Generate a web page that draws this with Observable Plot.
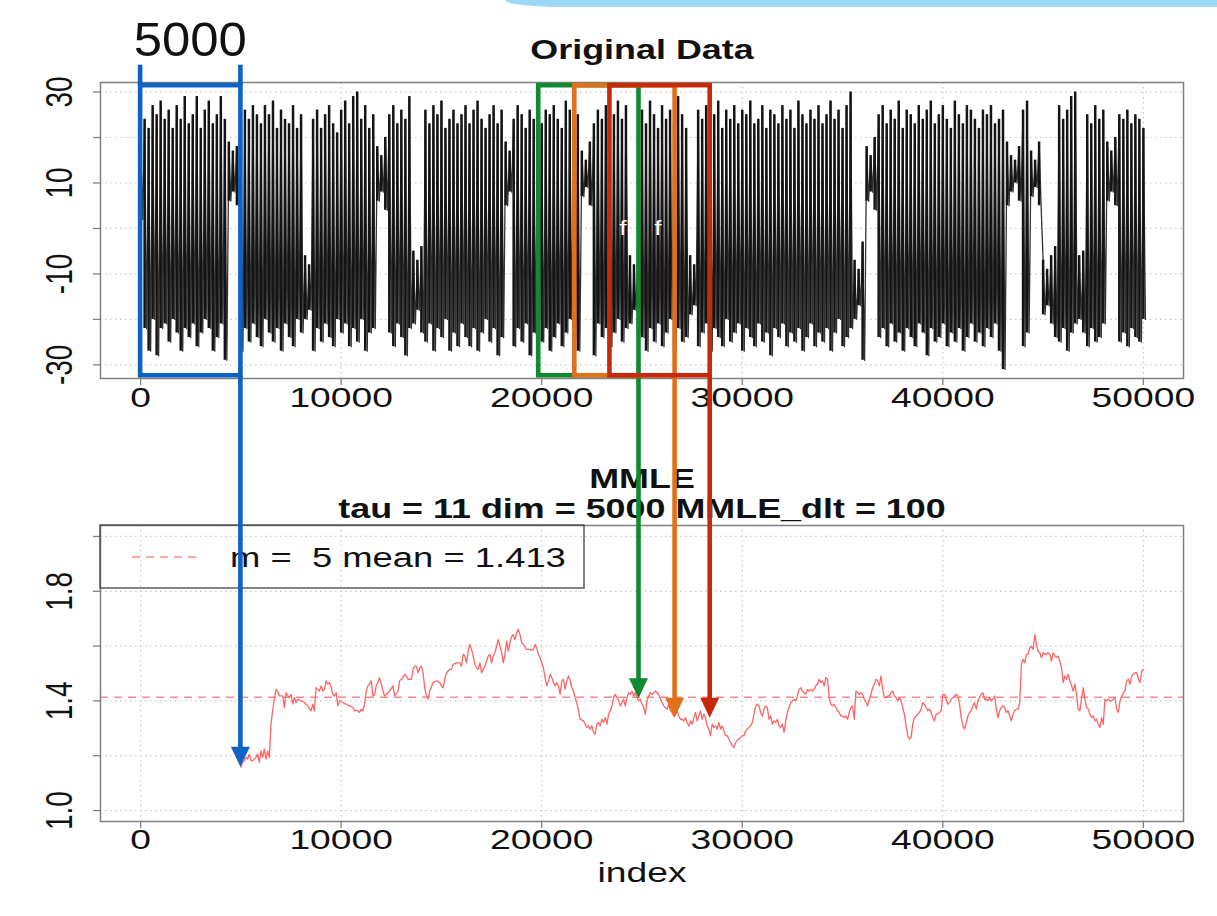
<!DOCTYPE html>
<html><head><meta charset="utf-8">
<script src="https://cdn.jsdelivr.net/npm/d3@7"></script>
<script src="https://cdn.jsdelivr.net/npm/@observablehq/plot@0.6"></script>
<style>
html,body{margin:0;padding:0;background:#fff;}
#page{position:relative;width:1217px;height:916px;overflow:hidden;font-family:"Liberation Sans",Arial,Helvetica,sans-serif;}
#page > svg{position:absolute;left:0;overflow:visible;}
#deco{position:absolute;left:505px;top:0;width:712px;height:7px;background:#9bd8f8;border-bottom-left-radius:60px 7px;}
</style></head><body><div id="page"><div id="deco"></div></div>
<script>
// ---------------- data ----------------
const xTicks = [0, 10000, 20000, 30000, 40000, 50000];
const topYTicks = [-30, -20, -10, 0, 10, 20, 30];
const topYLabels = [30, 10, -10, -30];
const botYTicks = [1.0, 1.2, 1.4, 1.6, 1.8, 2.0];
const botYLabels = [1.0, 1.4, 1.8];

// Original data: one vertical excursion (max / min) every 200 samples
const spikeStep = 200;
const spikeHi = [
20,24,22,27,25,28,24,26,22,27, 24,29,23,25,29,22,26,28,23,25,
29,24,19,17,18,22,26,24,27,25, 23,27,25,28,22,26,24,23,27,22,
25,-6,-8,24,26,22,25,27,23,21, 26,28,23,29,30,24,27,22,25,18,
16,20,25,27,23,26,24,29,-5,-7, -4,26,23,27,25,28,22,24,26,23,
25,27,23,26,28,24,22,25,27,23, 26,19,17,24,27,25,22,26,24,28,
23,26,25,27,24,22,28,26,23,25, 17,15,19,23,26,24,27,22,25,28,
24,27,-6,-8,-5,26,23,28,25,22, 27,24,26,23,29,25,22,-6,-8,26,
24,27,23,25,28,22,26,24,27,23, 26,25,28,23,24,27,22,26,25,23,
27,24,26,22,28,25,23,26,24,27, 23,25,28,24,26,22,27,30,-7,-9,
-3,18,16,20,25,27,23,26,24,28, 22,26,25,23,27,24,26,28,23,25,
27,24,22,28,25,23,27,26,24,22, 26,25,27,23,24,26,19,16,15,18,
26,28,17,15,19,-7,-9,-6,-4,27, 24,26,29,30,-6,-5,25,23,27,24,
26,19,17,20,25,24,26,23,25,24,22];
const spikeLo = [
2,-22,-27,-20,-28,-22,-21,-25,-20,-23, -27,-22,-24,-21,-26,-23,-20,-22,-27,-24,
-21,-29,6,8,5,-27,-22,-25,-21,-24, -26,-20,-23,-25,-22,-27,-21,-24,-26,-20,
-23,-20,-18,-27,-22,-25,-21,-24,-26,-20, -23,-21,-26,-22,-25,-20,-27,-23,-22,6,
8,4,-23,-26,-21,-24,-28,-22,-21,-18, -23,-25,-21,-27,-22,-24,-20,-27,-23,-26,
-21,-24,-26,-22,-27,-23,-20,-25,-22,-28, -24,5,8,-26,-22,-25,-21,-28,-23,-20,
-25,-22,-27,-24,-21,-26,-23,-20,-24,-27, 7,9,5,-28,-21,-24,-22,-26,-23,-20,
-25,-22,-21,-18,-23,-24,-27,-22,-25,-21, -26,-23,-20,-27,-22,-25,-24,-19,-17,-26,
-23,-21,-27,-22,-24,-26,-20,-25,-23,-21, -27,-22,-24,-26,-21,-25,-23,-28,-22,-24,
-21,-26,-23,-25,-22,-27,-24,-21,-26,-23, -25,-22,-27,-23,-20,-26,-24,-22,-20,-17,
-29,6,8,4,-24,-22,-26,-21,-25,-23, -27,-22,-24,-26,-21,-23,-28,-22,-25,-24,
-21,-26,-23,-25,-22,-27,-24,-21,-25,-23, -26,-22,-24,-21,-27,-31,5,8,10,6,
-26,-23,7,9,5,-19,-17,-21,-24,-25, -22,-27,-23,-21,-20,-23,-26,-22,-25,-24,
-21,6,8,5,-25,-23,-26,-22,-24,-25,-20];
const fMarkX = [24050, 25800];

// MMLE estimates from index 5000 to 50000
const mmleStart = 5000, mmleEnd = 50000;
const mmleValues = [
1.158,1.176,1.182,1.194,1.188,1.206,1.182,1.182,1.188,1.194,
1.206,1.176,1.218,1.194,1.224,1.188,1.218,1.194,1.315,1.364,
1.406,1.442,1.436,1.418,1.418,1.418,1.376,1.430,1.418,1.412,
1.424,1.388,1.412,1.394,1.406,1.403,1.400,1.398,1.394,1.388,
1.382,1.373,1.364,1.388,1.364,1.448,1.442,1.436,1.455,1.436,
1.442,1.473,1.461,1.467,1.448,1.424,1.418,1.430,1.382,1.400,
1.398,1.394,1.390,1.388,1.385,1.382,1.379,1.376,1.364,1.366,
1.364,1.358,1.370,1.364,1.388,1.436,1.455,1.461,1.473,1.418,
1.424,1.455,1.467,1.485,1.461,1.436,1.418,1.424,1.430,1.436,
1.446,1.455,1.418,1.427,1.436,1.473,1.479,1.485,1.497,1.491,
1.479,1.479,1.479,1.515,1.527,1.527,1.503,1.521,1.527,1.503,
1.448,1.418,1.406,1.436,1.452,1.467,1.470,1.473,1.470,1.467,
1.455,1.448,1.479,1.503,1.509,1.515,1.515,1.533,1.536,1.539,
1.539,1.539,1.527,1.570,1.564,1.539,1.582,1.606,1.588,1.564,
1.533,1.521,1.515,1.539,1.503,1.515,1.527,1.545,1.564,1.570,
1.539,1.564,1.576,1.600,1.624,1.600,1.576,1.539,1.570,1.618,
1.582,1.612,1.636,1.642,1.624,1.648,1.661,1.642,1.612,1.606,
1.596,1.588,1.588,1.588,1.584,1.588,1.606,1.594,1.570,
1.558,1.539,1.521,1.485,1.455,1.473,1.497,1.485,1.467,1.455,
1.467,1.455,1.424,1.473,1.479,1.442,1.473,1.491,1.473,1.448,
1.436,1.412,1.394,1.364,1.333,1.330,1.327,1.315,1.303,1.309,
1.297,1.309,1.285,1.279,1.315,1.321,1.309,1.333,1.321,1.339,
1.315,1.352,1.364,1.382,1.412,1.424,1.412,1.400,1.382,1.394,
1.406,1.382,1.412,1.430,1.424,1.436,1.418,1.430,1.412,1.400,
1.406,1.388,1.376,1.352,1.400,1.418,1.430,1.424,1.430,1.436,
1.430,1.424,1.406,1.394,1.382,1.376,1.370,1.388,1.364,1.358,
1.345,1.352,1.364,1.345,1.333,1.333,1.327,1.339,1.321,1.309,
1.327,1.315,1.339,1.358,1.327,1.345,1.364,1.333,1.352,1.339,
1.309,1.297,1.273,1.315,1.303,1.309,1.297,1.321,1.297,1.309,
1.291,1.273,1.273,1.261,1.248,1.236,1.230,1.248,1.255,1.261,
1.267,1.273,1.273,1.291,1.297,1.303,1.309,1.321,1.352,1.382,
1.388,1.382,1.358,1.345,1.370,1.382,1.376,1.333,1.345,1.315,
1.327,1.321,1.333,1.309,1.303,1.315,1.285,1.327,1.358,1.376,
1.394,1.400,1.406,1.400,1.418,1.442,1.448,1.436,1.430,1.424,
1.442,1.436,1.442,1.436,1.442,1.455,1.461,1.479,1.467,1.473,
1.455,1.485,1.479,1.412,1.388,1.382,1.388,1.376,1.364,1.358,
1.345,1.345,1.339,1.345,1.333,1.358,1.376,1.382,1.333,1.436,
1.430,1.424,1.430,1.424,1.406,1.394,1.382,1.406,1.424,1.448,
1.461,1.479,1.473,1.455,1.491,1.442,1.412,1.412,1.418,1.418,
1.430,1.436,1.418,1.412,1.400,1.412,1.400,1.376,1.352,1.309,
1.273,1.261,1.267,1.315,1.339,1.345,1.352,1.358,1.370,1.394,
1.388,1.376,1.364,1.370,1.358,1.339,1.327,1.352,1.352,1.358,
1.364,1.424,1.424,1.406,1.388,1.394,1.406,1.412,1.418,1.424,
1.418,1.388,1.339,1.309,1.297,1.321,1.345,1.358,1.364,1.382,
1.394,1.370,1.400,1.412,1.424,1.430,1.406,1.406,1.400,1.412,
1.400,1.406,1.418,1.370,1.339,1.364,1.376,1.382,1.376,1.358,
1.364,1.345,1.327,1.352,1.364,1.370,1.370,1.394,1.533,1.552,
1.539,1.570,1.570,1.594,1.600,1.588,1.642,1.606,1.582,1.576,
1.558,1.576,1.570,1.570,1.576,1.570,1.545,1.576,1.564,1.558,
1.564,1.545,1.521,1.467,1.491,1.479,1.497,1.473,1.455,1.436,
1.461,1.424,1.370,1.364,1.406,1.448,1.406,1.376,1.370,1.352,
1.339,1.345,1.327,1.333,1.315,1.303,1.339,1.315,1.406,1.400,
1.406,1.400,1.400,1.406,1.412,1.370,1.358,1.400,1.418,1.430,
1.436,1.473,1.479,1.461,1.491,1.497,1.503,1.503,1.479,1.467,
1.509,1.515];
const mmleMean = 1.413;
const legendText = "m =  5 mean = 1.413";

// annotation windows (5000-sample windows, arrows at window ends)
const windowSize = 5000;
const windowEnds = [5000, 24850, 26650, 28400];
const windowColors = ["#0d62c2", "#108a30", "#e2701a", "#c9290b"];
const arrowTips = [1.158, 1.408, 1.337, 1.337];
const boxTopVal = 31.4, boxBottomVal = -32.4, bracketTopVal = 35.9;

// ---------------- drawing ----------------
const W = 1217, H = 916;
const topH = 430, botOffset = 430, botH = 486;
const font = '"Liberation Sans", Arial, Helvetica, sans-serif';
const ink = "#111";
const gridStyle = {stroke: "#c9c9c9", strokeOpacity: 1, strokeDasharray: "1.5,3.5", strokeWidth: 1.2};
const frameStyle = {stroke: "#808080", strokeWidth: 1.5};
const SX = 1.33;

const spikes = spikeHi.map((h, i) => ({x: i * spikeStep, hi: h, lo: spikeLo[i]}));
const zigzag = spikes.flatMap(d => [{x: d.x, y: d.hi}, {x: d.x + spikeStep / 2, y: d.lo}]);
const mmleStep = (mmleEnd - mmleStart) / (mmleValues.length - 1);
const mmle = mmleValues.map((v, i) => ({x: mmleStart + i * mmleStep, v}));

function axisMarks(yTicks, yLabels, fmt, labelDy) {
  return [
    Plot.axisX(xTicks, {tickSize: 7, tickFormat: () => "", stroke: "#808080", strokeWidth: 1.3}),
    Plot.axisY(yTicks, {tickSize: 7, tickFormat: () => "", stroke: "#808080", strokeWidth: 1.3}),
    Plot.text(xTicks, {x: d => d, frameAnchor: "bottom", dy: labelDy, text: d => String(d),
      fontSize: 28, lineAnchor: "middle", textAnchor: "middle", fill: ink}),
    Plot.text(yLabels, {y: d => d, frameAnchor: "left", dx: -40, rotate: -90, text: fmt,
      fontSize: 28, lineAnchor: "middle", textAnchor: "middle", fill: ink})
  ];
}

const topPlot = Plot.plot({
  width: W, height: topH,
  marginLeft: 100, marginRight: 34, marginTop: 82, marginBottom: 52,
  style: {fontFamily: font, background: "transparent", overflow: "visible"},
  x: {domain: [-2000, 52000], axis: null, label: null},
  y: {domain: [-33.0, 32.1], axis: null, label: null},
  marks: [
    Plot.gridX(xTicks, gridStyle),
    Plot.gridY(topYTicks, gridStyle),
    Plot.line(zigzag, {x: "x", y: "y", stroke: "#333", strokeWidth: 1.3}),
    Plot.ruleX(spikes, {x: "x", y1: "lo", y2: "hi", stroke: "#141414", strokeWidth: 2.5}),
    Plot.text(fMarkX, {x: d => d, y: 0, text: () => "f", fill: "white", fontSize: 20}),
    Plot.frame(frameStyle),
    ...axisMarks(topYTicks, topYLabels, d => String(d), 20),
    Plot.text(["Original Data"], {frameAnchor: "top", dy: -32, text: d => d, fontSize: 27,
      fontWeight: "bold", lineAnchor: "middle", fill: ink})
  ]
});

const botPlot = Plot.plot({
  width: W, height: botH,
  marginLeft: 100, marginRight: 34, marginTop: 95, marginBottom: 95,
  style: {fontFamily: font, background: "transparent", overflow: "visible"},
  x: {domain: [-2000, 52000], axis: null, label: null},
  y: {domain: [0.96, 2.04], axis: null, label: null},
  marks: [
    Plot.gridX(xTicks, gridStyle),
    Plot.gridY(botYTicks, gridStyle),
    Plot.ruleY([mmleMean], {stroke: "#ff8a8a", strokeWidth: 1.5, strokeDasharray: "8,6"}),
    Plot.line(mmle, {x: "x", y: "v", stroke: "#ff6464", strokeWidth: 1.3}),
    Plot.frame(frameStyle),
    ...axisMarks(botYTicks, botYLabels, d => d.toFixed(1), 19),
    Plot.text(["MMLE"], {frameAnchor: "top", dy: -46, text: d => d, fontSize: 27,
      fontWeight: "bold", lineAnchor: "middle", fill: ink}),
    Plot.text(["tau = 11 dim = 5000 MMLE_dlt = 100"], {frameAnchor: "top", dy: -16, text: d => d, fontSize: 27,
      fontWeight: "bold", lineAnchor: "middle", fill: ink}),
    Plot.text(["index"], {frameAnchor: "bottom", dy: 52, text: d => d, fontSize: 28,
      lineAnchor: "middle", fill: ink})
  ]
});

// The reference R output is horizontally stretched: stretch every text glyph the same way
function stretchAllText(svg, s) {
  svg.querySelectorAll("text").forEach(el => {
    const t = el.getAttribute("transform");
    if (t && t.trim()) {
      const rotated = /rotate\(/.test(t);
      el.setAttribute("transform", t + (rotated ? ` scale(1,${s})` : ` scale(${s},1)`));
    } else {
      const x = parseFloat(el.getAttribute("x")), y = parseFloat(el.getAttribute("y"));
      const xs = el.getAttribute("x") || "", ys = el.getAttribute("y") || "";
      if (!/em/.test(xs) && !/em/.test(ys) && isFinite(x) && isFinite(y)) {
        el.removeAttribute("x"); el.removeAttribute("y");
        el.setAttribute("transform", `translate(${x},${y}) scale(${s},1)`);
      }
    }
    el.style.whiteSpace = "pre";
  });
}

const page = document.getElementById("page");
for (const [p, top] of [[topPlot, 0], [botPlot, botOffset]]) {
  p.style.position = "absolute";
  p.style.left = "0px";
  p.style.top = top + "px";
  p.style.maxWidth = "none";
  page.appendChild(p);
  stretchAllText(p, SX);
}

// ---------------- annotation overlay (positions via Plot scales) ----------------
const xT = topPlot.scale("x"), yT = topPlot.scale("y");
const xB = botPlot.scale("x"), yB = botPlot.scale("y");
const ov = d3.create("svg").attr("width", W).attr("height", H)
  .style("position", "absolute").style("left", "0px").style("top", "0px").style("overflow", "visible");

// legend (R topleft legend)
const fx0 = Math.min(...xB.range), fyTop = botOffset + Math.min(...yB.range);
const lg = ov.append("g");
lg.append("rect").attr("x", fx0).attr("y", fyTop).attr("width", 484).attr("height", 63)
  .attr("fill", "none").attr("stroke", "#444").attr("stroke-width", 1.3);
lg.append("line").attr("x1", fx0 + 32).attr("x2", fx0 + 99).attr("y1", fyTop + 32).attr("y2", fyTop + 32)
  .attr("stroke", "#ff8a8a").attr("stroke-width", 1.5).attr("stroke-dasharray", "8,6");
lg.append("text").attr("transform", `translate(${fx0 + 130},${fyTop + 42}) scale(1.3,1)`)
  .attr("font-size", 28).attr("font-family", font).attr("fill", ink).style("white-space", "pre").text(legendText);

// "5000" label above the first window
ov.append("text").attr("transform", `translate(${(xT.apply(0) + xT.apply(windowSize)) / 2},56) scale(1.06,1)`)
  .attr("text-anchor", "middle").attr("font-size", 48).attr("font-family", font).attr("fill", ink).text(String(windowSize));

const lw = 4.6, headW = 19, headH = 20;
windowEnds.forEach((end, k) => {
  const c = windowColors[k];
  const start = end - windowSize;
  const x0 = xT.apply(start), x1 = xT.apply(end);
  const yTop = yT.apply(boxTopVal), yBot = yT.apply(boxBottomVal);
  const g = ov.append("g");
  g.append("rect").attr("x", x0).attr("y", yTop).attr("width", x1 - x0).attr("height", yBot - yTop)
    .attr("fill", "none").attr("stroke", c).attr("stroke-width", lw);
  if (k === 0) {
    for (const xx of [x0, x1]) {
      g.append("line").attr("x1", xx).attr("x2", xx).attr("y1", yT.apply(bracketTopVal)).attr("y2", yTop)
        .attr("stroke", c).attr("stroke-width", lw);
    }
  }
  const ax = xB.apply(end);
  const tipY = botOffset + yB.apply(arrowTips[k]);
  g.append("line").attr("x1", ax).attr("x2", ax).attr("y1", yBot).attr("y2", tipY - headH + 1)
    .attr("stroke", c).attr("stroke-width", lw);
  g.append("polygon")
    .attr("points", `${ax - headW / 2},${tipY - headH} ${ax + headW / 2},${tipY - headH} ${ax},${tipY}`)
    .attr("fill", c);
});
page.appendChild(ov.node());
</script></body></html>
